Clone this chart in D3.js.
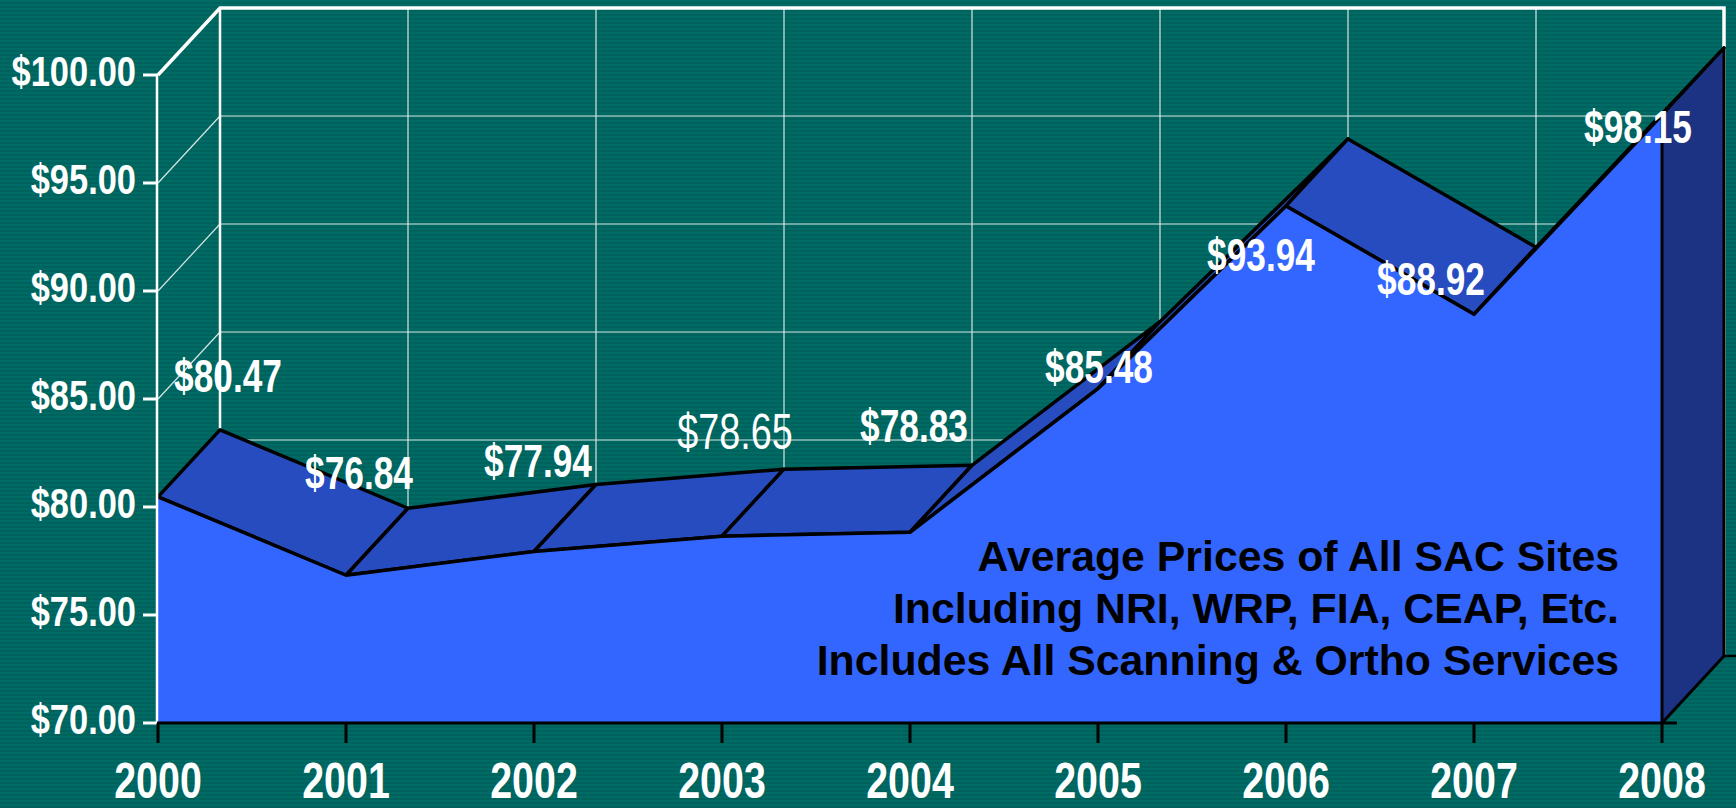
<!DOCTYPE html>
<html>
<head>
<meta charset="utf-8">
<script src="https://cdn.jsdelivr.net/npm/d3@7"></script>
<style>
  html, body { margin: 0; padding: 0; background: #006a63; }
  svg { display: block; }
</style>
</head>
<body>
<svg id="chart" width="1736" height="808"></svg>
<script>
// chart values
const years = [2000, 2001, 2002, 2003, 2004, 2005, 2006, 2007, 2008];
const prices = [80.47, 76.84, 77.94, 78.65, 78.83, 85.48, 93.94, 88.92, 98.15];
const yTicks = [70, 75, 80, 85, 90, 95, 100];
const noteLines = [
  "Average Prices of All SAC Sites",
  "Including NRI, WRP, FIA, CEAP, Etc.",
  "Includes All Scanning & Ortho Services",
];

// label placement tweaks (relative to the data point), as in the original slide
const labelNudge = [
  [70, -105], [13, -86], [4, -74], [13, -87], [4, -90],
  [1, -6], [-25, 65], [-43, -19], [-24, 28],
];
const lightLabels = new Set([2003]);

const width = 1736, height = 808;
const depth = { x: 62, y: -67 };
const colors = {
  front: "#3366ff",
  top: "#264cc0",
  side: "#1c3282",
  grid: "#d8e6e4",
};
const narrow = "'Liberation Sans', Arial, sans-serif";

const svg = d3.select("#chart");

const x = d3.scaleLinear().domain([2000, 2008]).range([158, 1662]);
const y = d3.scaleLinear().domain([70, 100]).range([723, 75]);
const fmt = d3.format("$.2f");

const data = years.map((yr, i) => ({ year: yr, value: prices[i] }));
const x0 = x.range()[0], x1 = x.range()[1];
const yBase = y(70), yTop = y(100);

// striped background
const defs = svg.append("defs");
const pat = defs.append("pattern")
  .attr("id", "stripes")
  .attr("patternUnits", "userSpaceOnUse")
  .attr("width", 8).attr("height", 4);
pat.append("rect").attr("width", 8).attr("height", 4).attr("fill", "#006a64");
pat.append("rect").attr("y", 2).attr("width", 8).attr("height", 2).attr("fill", "#00625c");
svg.append("rect").attr("width", width).attr("height", height).attr("fill", "url(#stripes)");

// walls: grid lines
const grid = svg.append("g").attr("stroke", colors.grid).attr("stroke-width", 1.2).attr("fill", "none");
grid.selectAll(".side")
  .data(yTicks.filter((t) => t !== 100))
  .join("line")
  .attr("x1", x0).attr("y1", (d) => y(d))
  .attr("x2", x0 + depth.x).attr("y2", (d) => y(d) + depth.y);
grid.selectAll(".back-h")
  .data(yTicks.filter((t) => t !== 100))
  .join("line")
  .attr("x1", x0 + depth.x).attr("y1", (d) => y(d) + depth.y)
  .attr("x2", x1 + depth.x).attr("y2", (d) => y(d) + depth.y);
grid.selectAll(".back-v")
  .data(years.slice(1, -1))
  .join("line")
  .attr("x1", (d) => x(d) + depth.x).attr("y1", yTop + depth.y)
  .attr("x2", (d) => x(d) + depth.x).attr("y2", yBase + depth.y);

// walls: outer frame
const frame = svg.append("g").attr("stroke", "#fff").attr("fill", "none");
frame.append("path")
  .attr("stroke-width", 3.5)
  .attr("d", `M${x0},${yTop}L${x0 + depth.x},${yTop + depth.y}H${x1 + depth.x}V${yBase + depth.y}`);
frame.append("line")
  .attr("stroke-width", 2.5)
  .attr("x1", x0 + depth.x).attr("y1", yTop + depth.y)
  .attr("x2", x0 + depth.x).attr("y2", yBase + depth.y);

// top faces of the ribbon, left to right
const pt = (d) => [x(d.year), y(d.value)];
const back = (p) => [p[0] + depth.x, p[1] + depth.y];
const segs = d3.pairs(data);
svg.append("g")
  .selectAll("path")
  .data(segs)
  .join("path")
  .attr("d", ([a, b]) => {
    const pa = pt(a), pb = pt(b);
    return d3.line()([pa, pb, back(pb), back(pa)]) + "Z";
  })
  .attr("fill", colors.top)
  .attr("stroke", "#000")
  .attr("stroke-width", 3.5)
  .attr("stroke-linejoin", "round");

// front face
const area = d3.area()
  .x((d) => x(d.year))
  .y0(yBase)
  .y1((d) => y(d.value));
svg.append("path").datum(data).attr("d", area).attr("fill", colors.front);
svg.append("path")
  .datum(data)
  .attr("d", d3.line().x((d) => x(d.year)).y((d) => y(d.value)))
  .attr("fill", "none")
  .attr("stroke", "#000")
  .attr("stroke-width", 3.5)
  .attr("stroke-linejoin", "round");

// right side face
const last = data[data.length - 1];
const pl = pt(last);
svg.append("path")
  .attr("d", d3.line()([pl, back(pl), back([pl[0], yBase]), [pl[0], yBase]]) + "Z")
  .attr("fill", colors.side)
  .attr("stroke", "#000")
  .attr("stroke-width", 3)
  .attr("stroke-linejoin", "round");
svg.append("line")
  .attr("x1", x1 + depth.x).attr("y1", yBase + depth.y)
  .attr("x2", width).attr("y2", yBase + depth.y)
  .attr("stroke", "#000").attr("stroke-width", 2.5);

// y axis (white)
const yAxis = svg.append("g");
yAxis.append("line")
  .attr("x1", x0 - 1).attr("x2", x0 - 1)
  .attr("y1", yTop).attr("y2", yBase)
  .attr("stroke", "#fff").attr("stroke-width", 2.5);
yAxis.selectAll(".tick")
  .data(yTicks)
  .join("line")
  .attr("x1", x0 - 15).attr("x2", x0)
  .attr("y1", (d) => y(d)).attr("y2", (d) => y(d))
  .attr("stroke", "#fff").attr("stroke-width", 3);
yAxis.selectAll("g.lbl")
  .data(yTicks)
  .join("g")
  .attr("class", "lbl")
  .attr("transform", (d) => `translate(${x0 - 22},${y(d) + 11}) scale(0.82,1)`)
  .append("text")
  .attr("text-anchor", "end")
  .attr("font-family", narrow)
  .attr("font-weight", "bold")
  .attr("font-size", 42)
  .attr("fill", "#fff")
  .text((d) => fmt(d));

// x axis (black)
const xAxis = svg.append("g");
xAxis.append("line")
  .attr("x1", x0 - 1).attr("x2", x1 + 15)
  .attr("y1", yBase).attr("y2", yBase)
  .attr("stroke", "#000").attr("stroke-width", 3);
xAxis.selectAll(".tick")
  .data(years)
  .join("line")
  .attr("x1", (d) => x(d)).attr("x2", (d) => x(d))
  .attr("y1", yBase).attr("y2", yBase + 20)
  .attr("stroke", "#000").attr("stroke-width", 3);
xAxis.selectAll("g.lbl")
  .data(years)
  .join("g")
  .attr("class", "lbl")
  .attr("transform", (d) => `translate(${x(d)},798) scale(0.82,1.06)`)
  .append("text")
  .attr("text-anchor", "middle")
  .attr("font-family", narrow)
  .attr("font-weight", "bold")
  .attr("font-size", 48)
  .attr("fill", "#fff")
  .text((d) => d);

// value labels
svg.append("g")
  .selectAll("g")
  .data(data)
  .join("g")
  .attr("transform", (d, i) => {
    const [dx, dy] = labelNudge[i];
    return `translate(${x(d.year) + dx},${y(d.value) + dy}) scale(0.82,1.08)`;
  })
  .append("text")
  .attr("text-anchor", "middle")
  .attr("font-family", narrow)
  .attr("font-weight", (d) => (lightLabels.has(d.year) ? "normal" : "bold"))
  .attr("font-size", (d) => (lightLabels.has(d.year) ? 46 : 43))
  .attr("fill", "#fff")
  .text((d) => fmt(d.value));

// note
svg.append("text")
  .attr("font-family", "'Liberation Sans', Arial, sans-serif")
  .attr("font-weight", "bold")
  .attr("font-size", 42.8)
  .attr("text-anchor", "end")
  .attr("fill", "#000")
  .selectAll("tspan")
  .data(noteLines)
  .join("tspan")
  .attr("x", 1619)
  .attr("y", (d, i) => 571 + i * 52)
  .text((d) => d);
</script>
</body>
</html>
